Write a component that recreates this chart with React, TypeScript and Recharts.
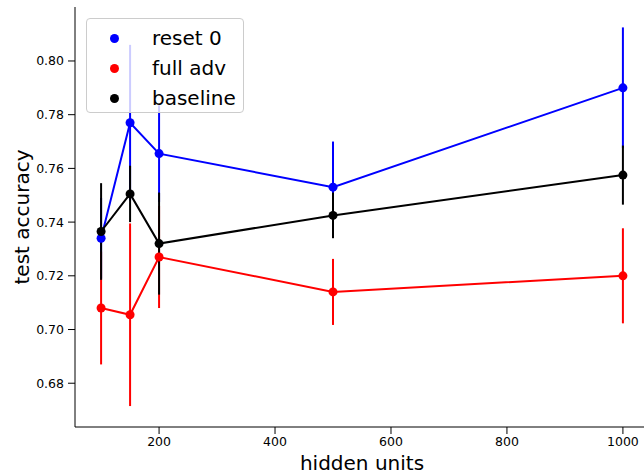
import {
  ComposedChart,
  Line,
  XAxis,
  YAxis,
  ErrorBar,
  Legend,
} from "recharts";

const hiddenUnits = [100, 150, 200, 500, 1000];

const reset0 = [0.734, 0.777, 0.7655, 0.753, 0.79];
const reset0Err = [0.015, 0.029, 0.018, 0.017, 0.0225];

const fullAdv = [0.708, 0.7055, 0.727, 0.714, 0.72];
const fullAdvErr = [0.021, 0.034, 0.019, 0.0123, 0.0177];

const baseline = [0.7365, 0.7505, 0.732, 0.7425, 0.7575];
const baselineErr = [0.018, 0.0105, 0.019, 0.0085, 0.011];

const xTicks = [200, 400, 600, 800, 1000];
const yTicks = [0.68, 0.7, 0.72, 0.74, 0.76, 0.78, 0.8];

const series = [
  { key: "reset0", name: "reset 0", color: "#0000ff" },
  { key: "fullAdv", name: "full adv", color: "#ff0000" },
  { key: "baseline", name: "baseline", color: "#000000" },
];

const data = hiddenUnits.map((x, i) => ({
  x,
  reset0: reset0[i],
  reset0Err: reset0Err[i],
  fullAdv: fullAdv[i],
  fullAdvErr: fullAdvErr[i],
  baseline: baseline[i],
  baselineErr: baselineErr[i],
}));

const font = "DejaVu Sans";

const LegendBox = () => (
  <div
    style={{
      width: 158,
      height: 95,
      border: "1px solid #cccccc",
      borderRadius: 4,
      background: "rgba(255,255,255,0.8)",
      fontFamily: font,
      fontSize: 20,
      color: "#000",
      paddingTop: 4,
      boxSizing: "border-box",
    }}
  >
    {series.map((s) => (
      <div
        key={s.key}
        style={{ height: 30, display: "flex", alignItems: "center" }}
      >
        <span
          style={{
            display: "inline-block",
            width: 9,
            height: 9,
            borderRadius: "50%",
            background: s.color,
            marginLeft: 23,
            marginRight: 33,
          }}
        />
        <span style={{ lineHeight: "30px" }}>{s.name}</span>
      </div>
    ))}
  </div>
);

const App = () => {
  return (
    <div
      style={{
        position: "absolute",
        left: 0,
        top: 0,
        width: 644,
        height: 474,
        overflow: "hidden",
        background: "#fff",
      }}
    >
      <ComposedChart
        width={650}
        height={474}
        data={data}
        margin={{ top: 7, right: 1, left: 0, bottom: 0 }}
      >
        <XAxis
          dataKey="x"
          type="number"
          domain={[55, 1045]}
          ticks={xTicks}
          allowDataOverflow
          height={47}
          tickSize={7}
          tickMargin={3}
          stroke="#000"
          tick={{ fill: "#000", fontSize: 12.5, fontFamily: font }}
          label={{
            value: "hidden units",
            position: "insideBottom",
            offset: 4,
            style: { fontSize: 20, fontFamily: font, fill: "#000" },
          }}
        />
        <XAxis
          xAxisId="top"
          orientation="top"
          type="number"
          domain={[55, 1045]}
          height={0}
          tick={false}
          tickLine={false}
          stroke="#000"
        />
        <YAxis
          type="number"
          domain={[0.6637, 0.8201]}
          ticks={yTicks}
          allowDataOverflow
          width={75}
          tickSize={7}
          tickMargin={4}
          stroke="#000"
          tickFormatter={(v: number) => v.toFixed(2)}
          tick={{ fill: "#000", fontSize: 12.5, fontFamily: font }}
          label={{
            value: "test accuracy",
            angle: -90,
            position: "center",
            dx: -16,
            style: { fontSize: 20, fontFamily: font, fill: "#000" },
          }}
        />
        <Legend
          layout="vertical"
          align="center"
          verticalAlign="middle"
          wrapperStyle={{ left: 86, top: 18, width: 158, height: 95 }}
          content={() => <LegendBox />}
        />
        {series.map((s) => (
          <Line
            key={s.key}
            type="linear"
            dataKey={s.key}
            name={s.name}
            stroke={s.color}
            strokeWidth={2}
            dot={{ r: 4.5, fill: s.color, stroke: s.color, strokeWidth: 0 }}
            activeDot={false}
            isAnimationActive={false}
          >
            <ErrorBar
              dataKey={s.key + "Err"}
              direction="y"
              width={0}
              stroke={s.color}
              strokeWidth={2}
            />
          </Line>
        ))}
      </ComposedChart>
    </div>
  );
};

export default App;
